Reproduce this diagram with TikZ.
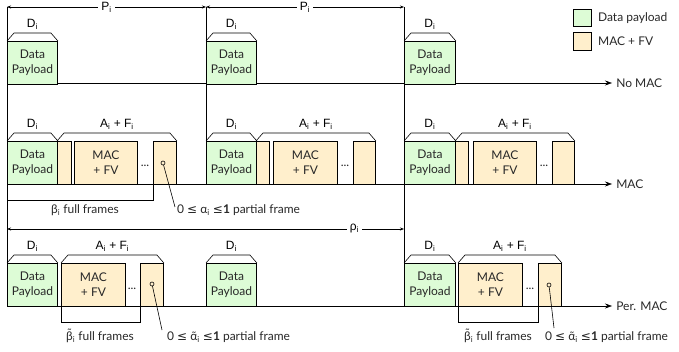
\documentclass[tikz,border=0pt]{standalone}
\usepackage{fontspec}
\setmainfont{Lato}
\newfontfamily\helv{Liberation Sans}
\newfontfamily\symf{DejaVu Sans}
\usetikzlibrary{arrows.meta,calc}
\definecolor{dgreen}{RGB}{221,252,214}
\definecolor{morange}{RGB}{255,239,204}
\definecolor{tcol}{RGB}{40,40,40}
\newcommand\blk[6]{\node[#2,anchor=north west,minimum width={(#4)-(#3)},minimum height=43] (#1) at (#3,#5) {#6};}
\newcommand\brk[4]{%
  \draw[ln] (#1.north west) -- ++(7,-8) coordinate (#4l) -- ($(#2.north east)+(-7,-8)$) coordinate (#4r) -- (#2.north east);
  \node[hl] (#4) at ($(#4l)!0.5!(#4r)+(0,-9)$) {#3};}
\newcommand\sub[1]{\textsubscript{#1}}
\newcommand\tl[2]{\ooalign{#1\cr\hidewidth\raisebox{#2}{˜}\hidewidth\cr}}
\begin{document}
\begin{tikzpicture}[x=1pt,y=-1pt,
  ln/.style={line width=0.6pt,draw=black},
  bx/.style={draw=black,line width=0.9pt,inner sep=0pt,align=center,font=\fontsize{12}{15}\selectfont,text=tcol},
  dbox/.style={bx,fill=dgreen},
  mbox/.style={bx,fill=morange},
  hl/.style={font=\helv\fontsize{12}{14}\selectfont,inner sep=1pt},
  txt/.style={font=\fontsize{12}{14}\selectfont,text=tcol,inner sep=1pt},
  dim/.style={ln,{Stealth[length=4,width=3]}-{Stealth[length=4,width=3]}},
  axis/.style={ln,-{Stealth[length=7,width=5]}},
  dotc/.style={circle,draw=black,line width=0.6pt,fill=morange,inner sep=0pt,minimum size=4}]
\useasboundingbox (0,0) rectangle (679,352);
% guide lines
\coordinate (v1t) at (7,7); \coordinate (v1b) at (7,306);
\coordinate (v2t) at (206,7); \coordinate (v2b) at (206,141);
\coordinate (v3t) at (404,7); \coordinate (v3b) at (404,263);
\draw[ln] (v1t) -- (v1b);
\draw[ln] (v2t) -- (v2b);
\draw[ln] (v3t) -- (v3b);
% dimension lines
\draw[dim] (v1t) -- (v2t) node[pos=0.5,fill=white,hl,inner sep=3pt] (P1) {P\sub{i}};
\draw[dim] (v2t) -- (v3t) node[pos=0.5,fill=white,hl,inner sep=3pt] (P2) {P\sub{i}};
\coordinate (r1) at (7,229); \coordinate (r2) at (404,229);
\draw[dim] (r1) -- (r2) node[pos=0.875,fill=white,hl,inner sep=3pt] (rho) {ρ\sub{i}};
% axes
\coordinate (a1s) at (7,83); \coordinate (a1e) at (612,83);
\coordinate (a2s) at (7,184); \coordinate (a2e) at (612,184);
\coordinate (a3s) at (7,306); \coordinate (a3e) at (612,306);
\draw[axis] (a1s) -- (a1e) node[right,txt,xshift=3] (l1) {No MAC};
\draw[axis] (a2s) -- (a2e) node[right,txt,xshift=3] (l2) {MAC};
\draw[axis] (a3s) -- (a3e) node[right,txt,xshift=3] (l3) {Per. MAC};
% row 1
\blk{d11}{dbox}{7}{57}{41}{Data\\Payload}
\blk{d12}{dbox}{206}{256}{41}{Data\\Payload}
\blk{d13}{dbox}{404}{455}{41}{Data\\Payload}
\brk{d11}{d11}{D\sub{i}}{b11}
\brk{d12}{d12}{D\sub{i}}{b12}
\brk{d13}{d13}{D\sub{i}}{b13}
% row 2
\blk{d21}{dbox}{7}{57}{141}{Data\\Payload}
\blk{s21}{mbox}{57}{71}{141}{}
\blk{m21}{mbox}{74}{137}{141}{MAC\\+ FV}
\blk{p21}{mbox}{153}{176}{141}{}
\blk{d22}{dbox}{206}{256}{141}{Data\\Payload}
\blk{s22}{mbox}{256}{269}{141}{}
\blk{m22}{mbox}{273}{337}{141}{MAC\\+ FV}
\blk{p22}{mbox}{353}{375}{141}{}
\blk{d23}{dbox}{404}{455}{141}{Data\\Payload}
\blk{s23}{mbox}{455}{468}{141}{}
\blk{m23}{mbox}{473}{536}{141}{MAC\\+ FV}
\blk{p23}{mbox}{552}{574}{141}{}
\node[txt] (o21) at (145,166) {...};
\node[txt] (o22) at (345,166) {...};
\node[txt] (o23) at (544,166) {...};
\brk{d21}{d21}{D\sub{i}}{b21}
\brk{s21}{p21}{A\sub{i} + F\sub{i}}{c21}
\brk{d22}{d22}{D\sub{i}}{b22}
\brk{s22}{p22}{A\sub{i} + F\sub{i}}{c22}
\brk{d23}{d23}{D\sub{i}}{b23}
\brk{s23}{p23}{A\sub{i} + F\sub{i}}{c23}
\draw[ln] (p21.south west) -- ++(0,15) coordinate (q21) -- (q21 -| v1t);
\node[txt] (f21) at (85,210) {β\sub{i} full frames};
\coordinate (e21) at (175,207);
\draw[ln] (163,163) node[dotc] (c21) {} (c21) -- (e21);
\node[txt,anchor=west] (g21) at (176,210) {0 {\symf ≤} α\sub{i} {\symf ≤}\textbf{1} partial frame};
% row 3
\blk{d31}{dbox}{7}{57}{263}{Data\\Payload}
\blk{m31}{mbox}{61}{125}{263}{MAC\\+ FV}
\blk{p31}{mbox}{140}{163}{263}{}
\blk{d32}{dbox}{206}{256}{263}{Data\\Payload}
\blk{d33}{dbox}{404}{455}{263}{Data\\Payload}
\blk{m33}{mbox}{458}{522}{263}{MAC\\+ FV}
\blk{p33}{mbox}{538}{561}{263}{}
\node[txt] (o31) at (132,289) {...};
\node[txt] (o33) at (530,289) {...};
\brk{d31}{d31}{D\sub{i}}{b31}
\brk{m31}{p31}{A\sub{i} + F\sub{i}}{c31}
\brk{d32}{d32}{D\sub{i}}{b32}
\brk{d33}{d33}{D\sub{i}}{b33}
\brk{m33}{p33}{A\sub{i} + F\sub{i}}{c33}
\draw[ln] (m31.south west) -- ++(0,15) -| (p31.south west);
\draw[ln] (m33.south west) -- ++(0,15) -| (p33.south west);
\node[txt] (f31) at (100,337) {\tl{β}{0.28em}\sub{i} full frames};
\node[txt] (f33) at (498,337) {\tl{β}{0.28em}\sub{i} full frames};
\coordinate (e31) at (162,330);
\coordinate (e33) at (554,328);
\draw[ln] (152,284) node[dotc] (k31) {} (k31) -- (e31);
\draw[ln] (549,285) node[dotc] (k33) {} (k33) -- (e33);
\node[txt,anchor=west] (g31) at (166,337) {0 {\symf ≤} \tl{α}{0em}\sub{i} {\symf ≤}\textbf{1} partial frame};
\node[txt,anchor=west] (g33) at (544,337) {0 {\symf ≤} \tl{α}{0em}\sub{i} {\symf ≤}\textbf{1} partial frame};
% legend
\node[dbox,anchor=north west,minimum width=18,minimum height=17] (lg1) at (573,9) {};
\node[mbox,anchor=north west,minimum width=18,minimum height=18] (lg2) at (573,32) {};
\node[txt,anchor=west] (lt1) at ([xshift=5]lg1.east) {Data payload};
\node[txt,anchor=west] (lt2) at ([xshift=5]lg2.east) {MAC + FV};
\end{tikzpicture}
\end{document}
